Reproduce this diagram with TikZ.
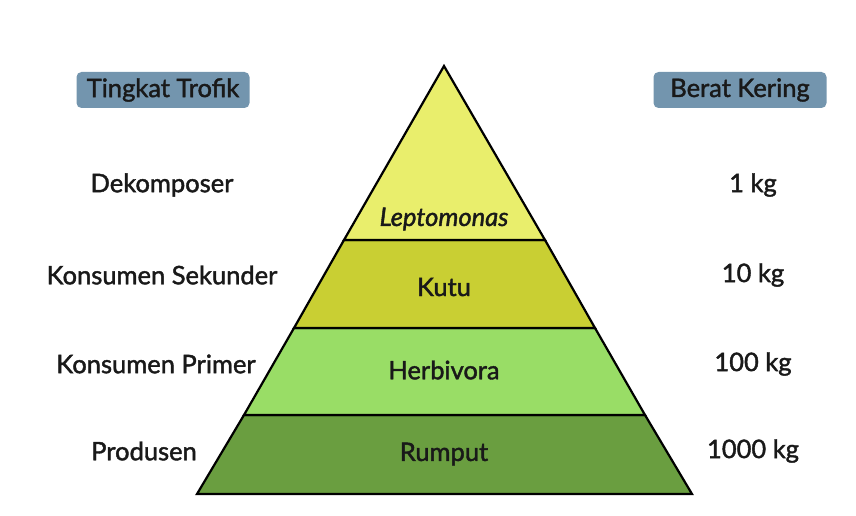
\documentclass[tikz,border=0pt]{standalone}
\usepackage{fontspec}
\setmainfont{Lato}[FakeBold=1.6]
\usepackage{tikz}

\definecolor{layerA}{HTML}{E9EE6C}
\definecolor{layerB}{HTML}{C9CF33}
\definecolor{layerC}{HTML}{99DD66}
\definecolor{layerD}{HTML}{6A9E40}
\definecolor{headbg}{HTML}{7395AE}

\tikzset{
  lbl/.style={font=\fontsize{25.5}{29}\selectfont, text=black!90},
  headbox/.style={lbl, fill=headbg, rounded corners=5pt, minimum width=173pt, minimum height=36pt, inner sep=0pt},
  layer/.style={draw=black, line width=2.2pt, line join=miter}
}

\begin{document}
\begin{tikzpicture}[x=1pt,y=-1pt]

\useasboundingbox (0,0) rectangle (856,516);

% pyramid corners
\coordinate (top) at (444,66);
\coordinate (l1) at (344,240); \coordinate (r1) at (545,240);
\coordinate (l2) at (294,328); \coordinate (r2) at (595,328);
\coordinate (l3) at (244,415); \coordinate (r3) at (645,415);
\coordinate (l4) at (197,494); \coordinate (r4) at (692,494);

\draw [layer,fill=layerD] (l3) -- (r3) -- (r4) -- (l4) -- cycle;
\draw [layer,fill=layerC] (l2) -- (r2) -- (r3) -- (l3) -- cycle;
\draw [layer,fill=layerB] (l1) -- (r1) -- (r2) -- (l2) -- cycle;
\draw [layer,fill=layerA] (top) -- (r1) -- (l1) -- cycle;

\node [lbl] (lepto) at (444,219) {\itshape Leptomonas};
\node [lbl] (kutu) at (444,287) {Kutu};
\node [lbl] (herb) at (444,370) {Herbivora};
\node [lbl] (rumput) at (444,454) {Rumput};

% headers
\node [headbox] (tingkat) at (163,90) {Tingkat Trofik};
\node [headbox] (berat) at (740,90) {Berat Kering};

% trophic levels
\node [lbl] (dekomp) at (162,185) {Dekomposer};
\node [lbl] (sekunder) at (162,275) {Konsumen Sekunder};
\node [lbl] (primer) at (156,364) {Konsumen Primer};
\node [lbl] (produsen) at (144,451) {Produsen};

% dry weights
\node [lbl] (w1) at (753,185) {1 kg};
\node [lbl] (w2) at (753,275) {10 kg};
\node [lbl] (w3) at (753,364) {100 kg};
\node [lbl] (w4) at (753,451) {1000 kg};

\end{tikzpicture}
\end{document}
